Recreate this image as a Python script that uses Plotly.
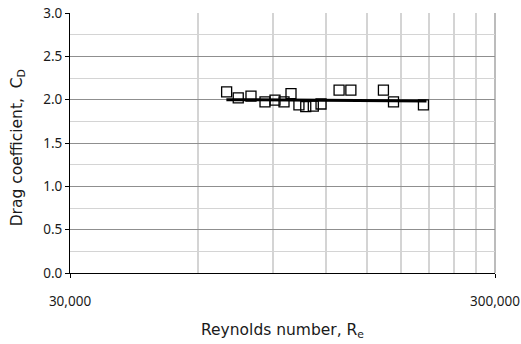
import math
import plotly.graph_objects as go

# Measured data (Reynolds number, drag coefficient)
reynolds = [70090, 74640, 79980, 86290, 91090, 95650, 99340, 103700, 107600,
            112100, 116900, 128900, 137400, 163900, 173100, 203600]
drag_cd = [2.09, 2.02, 2.04, 1.975, 1.995, 1.975, 2.07, 1.94, 1.92,
           1.925, 1.95, 2.11, 2.11, 2.11, 1.975, 1.94]

# Mean/trend line
fit_re = [70000, 207000]
fit_cd = [2.0, 1.985]

x_major_ticks = [30000, 300000]
x_major_labels = ["30,000", "300,000"]
x_minor_ticks = [60000, 90000, 120000, 150000, 180000, 210000, 240000, 270000]

TICK_FONT = "Noto Sans"
TITLE_FONT = "DejaVu Sans"

fig = go.Figure()
fig.add_trace(go.Scatter(
    x=fit_re, y=fit_cd, mode="lines",
    line=dict(color="black", width=3), showlegend=False, hoverinfo="skip"))
fig.add_trace(go.Scatter(
    x=reynolds, y=drag_cd, mode="markers",
    marker=dict(symbol="square-open", size=10, color="black", line=dict(width=1.3)),
    showlegend=False))

# right-hand plot-area border (gray, like Excel's plot area outline)
fig.add_shape(type="line", xref="paper", yref="paper", x0=1, x1=1, y0=0, y1=1,
              line=dict(color="#a6a6a6", width=1.5), layer="below")

# y-axis title as a rotated annotation (positioned like the original)
fig.add_annotation(text="Drag coefficient,\u00a0 C<sub>D</sub>", textangle=-90,
                   xref="paper", yref="paper", x=-0.122, y=0.48,
                   xanchor="center", yanchor="middle", showarrow=False,
                   font=dict(family=TITLE_FONT, size=15.5, color="#1a1a1a"))

fig.update_layout(
    width=521, height=344,
    margin=dict(l=70, r=26, t=13, b=71),
    paper_bgcolor="white", plot_bgcolor="white",
    font=dict(family=TICK_FONT, size=13.5, color="#1a1a1a"),
    xaxis=dict(
        type="log", automargin=False,
        range=[math.log10(30000), math.log10(300000)],
        tickmode="array", tickvals=x_major_ticks, ticktext=x_major_labels,
        ticks="outside", ticklen=4, tickcolor="black",
        ticklabelstandoff=12,
        showgrid=False,
        showline=True, linecolor="black", linewidth=1,
        minor=dict(tickmode="array", tickvals=x_minor_ticks, showgrid=True,
                   gridcolor="#d4d4d4", gridwidth=1.5, ticks=""),
        zeroline=False,
        title=dict(text="Reynolds number, R<sub>e</sub>",
                   font=dict(family=TITLE_FONT, size=15.5), standoff=14),
    ),
    yaxis=dict(
        range=[0, 3.0], automargin=False,
        tickmode="linear", tick0=0, dtick=0.5, tickformat=".1f",
        ticks="outside", ticklen=4, tickcolor="black",
        showgrid=True, gridcolor="#8f8f8f", gridwidth=1,
        showline=True, linecolor="black", linewidth=1,
        minor=dict(dtick=0.25, showgrid=True, gridcolor="#d4d4d4", gridwidth=1.2, ticks=""),
        zeroline=False,
    ),
)

fig.write_html("out.html", config={"displayModeBar": False},
               post_script="document.body.style.margin='0px';")
